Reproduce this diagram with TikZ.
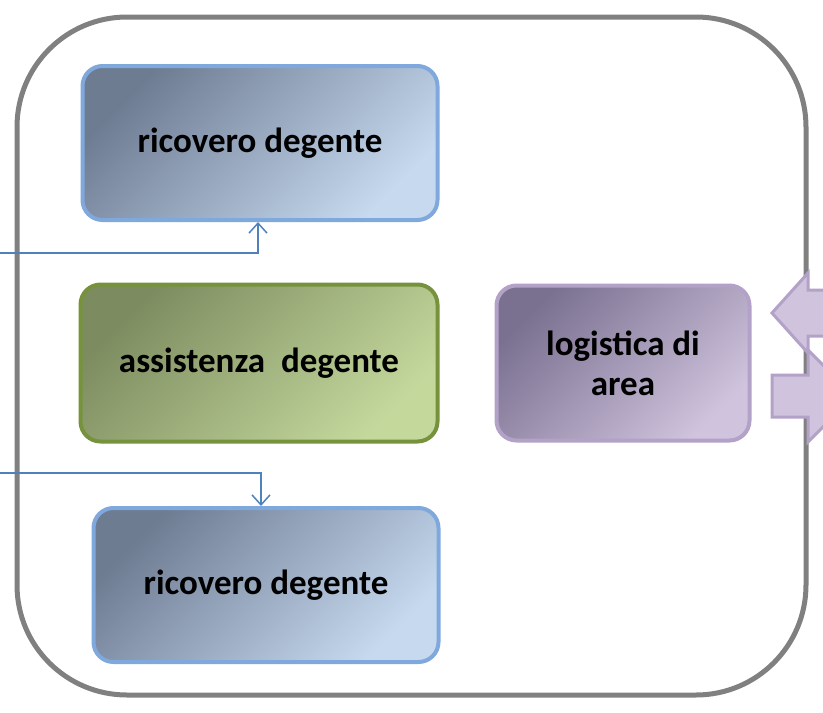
\documentclass[tikz,border=0pt]{standalone}
\usepackage{fontspec}
\setmainfont{Carlito}
\usepackage{xcolor}
\usetikzlibrary{arrows.meta,positioning}

\definecolor{bluebd}{HTML}{7FA8DD}
\definecolor{bluedk}{HTML}{6E7C92}
\definecolor{bluelt}{HTML}{C6D9EF}
\definecolor{greenbd}{HTML}{76923C}
\definecolor{greendk}{HTML}{7D8C60}
\definecolor{greenlt}{HTML}{C4D89C}
\definecolor{purpbd}{HTML}{B3A2C7}
\definecolor{purpdk}{HTML}{7A7090}
\definecolor{purplt}{HTML}{CFC3DD}
\definecolor{linkcol}{HTML}{4F81BD}

\begin{document}
\begin{tikzpicture}[x=1pt,y=-1pt,
  unit/.style={rounded corners=20pt,line width=4pt,align=center,
    font=\bfseries\fontsize{35}{40}\selectfont,inner sep=0pt},
  ward/.style={unit,draw=bluebd,top color=bluedk,bottom color=bluelt,shading angle=45,
    minimum width=355pt,minimum height=154pt},
  care/.style={unit,draw=greenbd,top color=greendk,bottom color=greenlt,shading angle=45,
    minimum width=357pt,minimum height=157pt},
  logi/.style={unit,draw=purpbd,top color=purpdk,bottom color=purplt,shading angle=45,
    minimum width=253pt,minimum height=155pt},
  bigarr/.style={draw=purpbd,fill=purplt,line width=3pt,line join=miter},
  link/.style={draw=linkcol,line width=1.5pt,-{Straight Barb[length=10pt,width=18pt,line width=1.5pt]}}]
 \useasboundingbox (0,0) rectangle (823,713);
 \clip (0,0) rectangle (823,713);
 % outer frame
 \draw[draw=black!50,line width=5pt,rounded corners=110pt] (17,17) rectangle (806,695);
 % units
 \node[ward] (ric1) at (260,143) {ricovero degente};
 \node[care] (ass)  at (259,363) {assistenza\ \ degente};
 \node[ward,minimum width=345pt] (ric2) at (266,585) {ricovero degente};
 \node[logi] (log)  at (623,363) {logistica di\\area};
 % block arrows at the right
 \draw[bigarr] (772,313) -- (808,273) -- (808,290) -- (850,290) -- (850,336)
   -- (808,336) -- (808,353) -- cycle;
 \draw[bigarr] (772,375) -- (808,375) -- (808,350) -- (854,396) -- (808,442)
   -- (808,417) -- (772,417) -- cycle;
 % connectors coming in from the left
 \coordinate (in1) at (0,253);
 \coordinate (in2) at (0,473);
 \draw[link] (in1) -| ([xshift=-2pt]ric1.south);
 \draw[link] (in2) -| ([xshift=-5pt]ric2.north);
\end{tikzpicture}
\end{document}
